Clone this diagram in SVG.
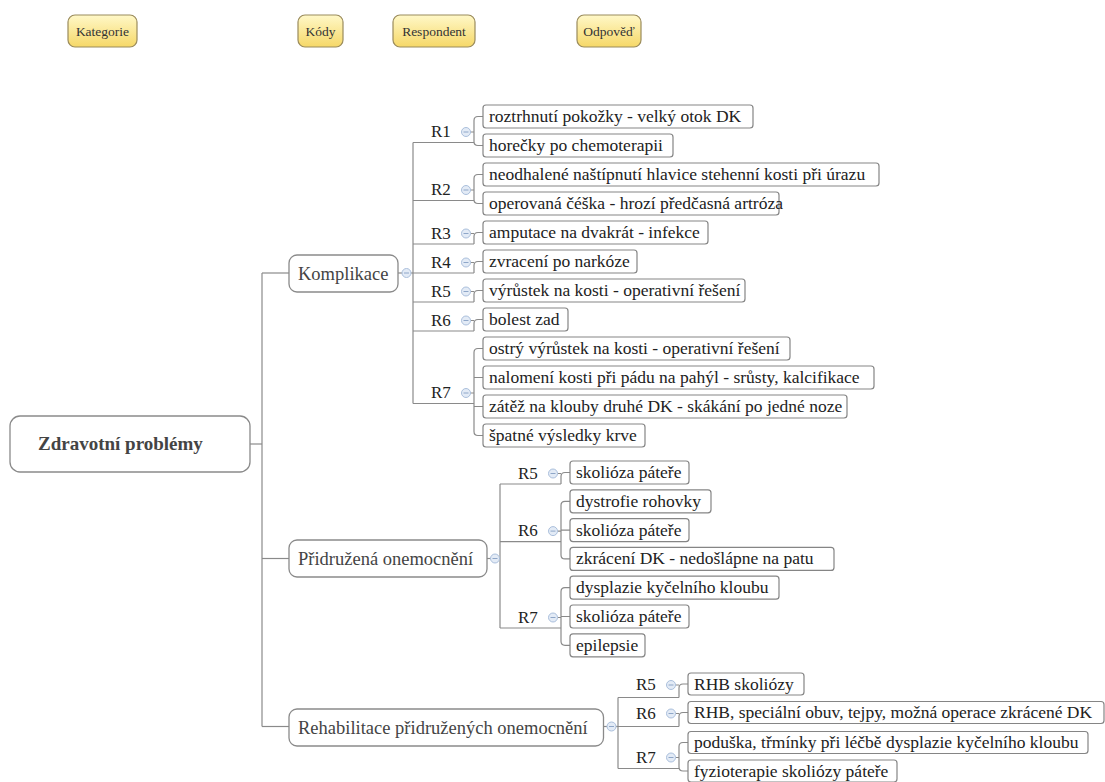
<svg xmlns="http://www.w3.org/2000/svg" width="1105" height="782" viewBox="0 0 1105 782">
  <defs>
    <linearGradient id="legendFill" x1="0" y1="0" x2="0" y2="1">
      <stop offset="0" stop-color="#fff8c8"/>
      <stop offset="1" stop-color="#f6d868"/>
    </linearGradient>
    <g id="collapse">
      <circle r="4.5" fill="#e3ebf6" stroke="#aabfdc" stroke-width="1"/>
      <line x1="-2.5" y1="0" x2="2.5" y2="0" stroke="#8ea6c8" stroke-width="1"/>
    </g>
  </defs>
  <style>
    .legend rect { fill: url(#legendFill); stroke: #9a8b5c; stroke-width: 1.2; }
    .legend text { font-family: "Liberation Serif", serif; font-size: 13.5px; fill: #333; text-anchor: middle; }
    .root rect { fill: #fff; stroke: #8a8a8a; stroke-width: 1.3; }
    .root text { font-family: "Liberation Serif", serif; font-size: 19px; font-weight: bold; fill: #444; }
    .cat rect { fill: #fff; stroke: #8a8a8a; stroke-width: 1.3; }
    .cat text { font-family: "Liberation Serif", serif; font-size: 18.5px; fill: #444; }
    .resp text { font-family: "Liberation Serif", serif; font-size: 17px; fill: #222; }
    .leaf rect { fill: #fff; stroke: #858585; stroke-width: 1.2; }
    .leaf text { font-family: "Liberation Serif", serif; font-size: 17.5px; fill: #222; }
    .links path { fill: none; stroke: #8a8a8a; stroke-width: 1.2; }
  </style>

  <rect width="1105" height="782" fill="#fff"/>

  <!-- legend -->
  <g id="legend" class="legend" font-family="Liberation Serif, serif">
    <g id="legend-kategorie"><rect x="68" y="15" width="69" height="32" rx="7"/><text font-family="Liberation Serif, serif" x="102.5" y="36">Kategorie</text></g>
    <g id="legend-kody"><rect x="298" y="15" width="45" height="32" rx="7"/><text font-family="Liberation Serif, serif" x="320.5" y="36">Kódy</text></g>
    <g id="legend-respondent"><rect x="393" y="15" width="82" height="32" rx="7"/><text font-family="Liberation Serif, serif" x="434" y="36">Respondent</text></g>
    <g id="legend-odpoved"><rect x="577" y="15" width="64" height="32" rx="7"/><text font-family="Liberation Serif, serif" x="609" y="36">Odpověď</text></g>
  </g>

  <!-- connectors -->
  <g id="connectors" class="links">
    <!-- root to categories -->
    <path d="M250,444 H262"/>
    <path d="M262,273 V726.5"/>
    <path d="M262,273 H289"/>
    <path d="M262,558.5 H289"/>
    <path d="M262,726.5 H289"/>

    <!-- Komplikace -->
    <path d="M398,273 H413"/>
    <path d="M413,142.5 V403.5"/>
    <path d="M413,142.5 H474 M413,200.5 H474 M413,244 H474 M413,273 H474 M413,302 H474 M413,331 H474 M413,403.5 H474"/>
    <path d="M483,116.5 H478 Q474,116.5 474,120.5 V141.5 Q474,145.5 478,145.5 H483"/>
    <path d="M483,174.5 H478 Q474,174.5 474,178.5 V199.5 Q474,203.5 478,203.5 H483"/>
    <path d="M474,244 V236.5 Q474,232.5 478,232.5 H483"/>
    <path d="M474,273 V265.5 Q474,261.5 478,261.5 H483"/>
    <path d="M474,302 V294.5 Q474,290.5 478,290.5 H483"/>
    <path d="M474,331 V323.5 Q474,319.5 478,319.5 H483"/>
    <path d="M483,348.5 H478 Q474,348.5 474,352.5 V431.5 Q474,435.5 478,435.5 H483 M474,377.5 H483 M474,406.5 H483"/>
    <path d="M470.5,132 H474 M470.5,190 H474 M470.5,233.5 H474 M470.5,262.5 H474 M470.5,291.5 H474 M470.5,320.5 H474 M470.5,393 H474"/>

    <!-- Přidružená onemocnění -->
    <path d="M487,558.5 H500"/>
    <path d="M500,484 V628"/>
    <path d="M500,484 H561 M500,541.6 H561 M500,628 H561"/>
    <path d="M561,484 V476.5 Q561,472.5 565,472.5 H570"/>
    <path d="M570,501.3 H565 Q561,501.3 561,505.3 V554.9 Q561,558.9 565,558.9 H570 M561,530.1 H570"/>
    <path d="M570,587.7 H565 Q561,587.7 561,591.7 V641.3 Q561,645.3 565,645.3 H570 M561,616.5 H570"/>
    <path d="M557.5,473.5 H561 M557.5,531.1 H561 M557.5,617.5 H561"/>

    <!-- Rehabilitace přidružených onemocnění -->
    <path d="M603.5,726.5 H618"/>
    <path d="M618,697.5 V768.5"/>
    <path d="M618,697.5 H679 M618,726.5 H679 M618,768.5 H679"/>
    <path d="M679,697.5 V688 Q679,684 683,684 H688"/>
    <path d="M679,726.5 V716.5 Q679,712.5 683,712.5 H688"/>
    <path d="M688,742.5 H683 Q679,742.5 679,746.5 V767 Q679,771 683,771 H688"/>
    <path d="M675.5,685 H679 M675.5,713.5 H679 M675.5,757.5 H679"/>
  </g>

  <!-- root -->
  <g id="node-root" class="root">
    <rect x="10" y="416" width="240" height="56" rx="10"/>
    <text font-family="Liberation Serif, serif" x="38" y="450">Zdravotní problémy</text>
  </g>

  <!-- categories -->
  <g id="node-komplikace" class="cat">
    <rect x="289" y="255" width="109" height="37" rx="8"/>
    <text font-family="Liberation Serif, serif" x="298" y="279.5">Komplikace</text>
    <use href="#collapse" x="406.5" y="273"/>
  </g>
  <g id="node-pridruzena" class="cat">
    <rect x="289" y="540" width="198" height="37" rx="8"/>
    <text font-family="Liberation Serif, serif" x="298" y="565">Přidružená onemocnění</text>
    <use href="#collapse" x="495" y="558.5"/>
  </g>
  <g id="node-rehabilitace" class="cat">
    <rect x="289" y="709" width="314.5" height="37" rx="8"/>
    <text font-family="Liberation Serif, serif" x="298" y="734">Rehabilitace přidružených onemocnění</text>
    <use href="#collapse" x="611.5" y="726.5"/>
  </g>

  <!-- respondents: Komplikace -->
  <g id="k-r1" class="resp"><text font-family="Liberation Serif, serif" x="431" y="137">R1</text><use href="#collapse" x="466" y="132"/></g>
  <g id="k-r2" class="resp"><text font-family="Liberation Serif, serif" x="431" y="195">R2</text><use href="#collapse" x="466" y="190"/></g>
  <g id="k-r3" class="resp"><text font-family="Liberation Serif, serif" x="431" y="238.5">R3</text><use href="#collapse" x="466" y="233.5"/></g>
  <g id="k-r4" class="resp"><text font-family="Liberation Serif, serif" x="431" y="267.5">R4</text><use href="#collapse" x="466" y="262.5"/></g>
  <g id="k-r5" class="resp"><text font-family="Liberation Serif, serif" x="431" y="296.5">R5</text><use href="#collapse" x="466" y="291.5"/></g>
  <g id="k-r6" class="resp"><text font-family="Liberation Serif, serif" x="431" y="325.5">R6</text><use href="#collapse" x="466" y="320.5"/></g>
  <g id="k-r7" class="resp"><text font-family="Liberation Serif, serif" x="431" y="398">R7</text><use href="#collapse" x="466" y="393"/></g>

  <!-- respondents: Přidružená onemocnění -->
  <g id="p-r5" class="resp"><text font-family="Liberation Serif, serif" x="518" y="478.5">R5</text><use href="#collapse" x="553" y="473.5"/></g>
  <g id="p-r6" class="resp"><text font-family="Liberation Serif, serif" x="518" y="536">R6</text><use href="#collapse" x="553" y="531.1"/></g>
  <g id="p-r7" class="resp"><text font-family="Liberation Serif, serif" x="518" y="622.5">R7</text><use href="#collapse" x="553" y="617.5"/></g>

  <!-- respondents: Rehabilitace -->
  <g id="r-r5" class="resp"><text font-family="Liberation Serif, serif" x="636" y="690">R5</text><use href="#collapse" x="671" y="685"/></g>
  <g id="r-r6" class="resp"><text font-family="Liberation Serif, serif" x="636" y="718.5">R6</text><use href="#collapse" x="671" y="713.5"/></g>
  <g id="r-r7" class="resp"><text font-family="Liberation Serif, serif" x="636" y="762.5">R7</text><use href="#collapse" x="671" y="757.5"/></g>

  <!-- answers: Komplikace -->
  <g id="k-a1" class="leaf"><rect x="483" y="105" width="270" height="23" rx="3"/><text font-family="Liberation Serif, serif" x="489" y="122">roztrhnutí pokožky - velký otok DK</text></g>
  <g id="k-a2" class="leaf"><rect x="483" y="134" width="190" height="23" rx="3"/><text font-family="Liberation Serif, serif" x="489" y="151">horečky po chemoterapii</text></g>
  <g id="k-a3" class="leaf"><rect x="483" y="163" width="396" height="23" rx="3"/><text font-family="Liberation Serif, serif" x="489" y="180">neodhalené naštípnutí hlavice stehenní kosti při úrazu</text></g>
  <g id="k-a4" class="leaf"><rect x="483" y="192" width="296" height="23" rx="3"/><text font-family="Liberation Serif, serif" x="489" y="209">operovaná čéška - hrozí předčasná artróza</text></g>
  <g id="k-a5" class="leaf"><rect x="483" y="221" width="225" height="23" rx="3"/><text font-family="Liberation Serif, serif" x="489" y="238">amputace na dvakrát - infekce</text></g>
  <g id="k-a6" class="leaf"><rect x="483" y="250" width="154" height="23" rx="3"/><text font-family="Liberation Serif, serif" x="489" y="267">zvracení po narkóze</text></g>
  <g id="k-a7" class="leaf"><rect x="483" y="279" width="262" height="23" rx="3"/><text font-family="Liberation Serif, serif" x="489" y="296">výrůstek na kosti - operativní řešení</text></g>
  <g id="k-a8" class="leaf"><rect x="483" y="308" width="85" height="23" rx="3"/><text font-family="Liberation Serif, serif" x="489" y="325">bolest zad</text></g>
  <g id="k-a9" class="leaf"><rect x="483" y="337" width="307" height="23" rx="3"/><text font-family="Liberation Serif, serif" x="489" y="354">ostrý výrůstek na kosti - operativní řešení</text></g>
  <g id="k-a10" class="leaf"><rect x="483" y="366" width="391" height="23" rx="3"/><text font-family="Liberation Serif, serif" x="489" y="383">nalomení kosti při pádu na pahýl - srůsty, kalcifikace</text></g>
  <g id="k-a11" class="leaf"><rect x="483" y="395" width="364" height="23" rx="3"/><text font-family="Liberation Serif, serif" x="489" y="412">zátěž na klouby druhé DK - skákání po jedné noze</text></g>
  <g id="k-a12" class="leaf"><rect x="483" y="424" width="162" height="23" rx="3"/><text font-family="Liberation Serif, serif" x="489" y="441">špatné výsledky krve</text></g>

  <!-- answers: Přidružená onemocnění -->
  <g id="p-a1" class="leaf"><rect x="570" y="461" width="119" height="23" rx="3"/><text font-family="Liberation Serif, serif" x="576" y="478">skolióza páteře</text></g>
  <g id="p-a2" class="leaf"><rect x="570" y="489.8" width="141" height="23" rx="3"/><text font-family="Liberation Serif, serif" x="576" y="506.8">dystrofie rohovky</text></g>
  <g id="p-a3" class="leaf"><rect x="570" y="518.6" width="119" height="23" rx="3"/><text font-family="Liberation Serif, serif" x="576" y="535.6">skolióza páteře</text></g>
  <g id="p-a4" class="leaf"><rect x="570" y="547.4" width="264" height="23" rx="3"/><text font-family="Liberation Serif, serif" x="576" y="564.4">zkrácení DK - nedošlápne na patu</text></g>
  <g id="p-a5" class="leaf"><rect x="570" y="576.2" width="209" height="23" rx="3"/><text font-family="Liberation Serif, serif" x="576" y="593.2">dysplazie kyčelního kloubu</text></g>
  <g id="p-a6" class="leaf"><rect x="570" y="605" width="119" height="23" rx="3"/><text font-family="Liberation Serif, serif" x="576" y="622">skolióza páteře</text></g>
  <g id="p-a7" class="leaf"><rect x="570" y="633.8" width="75" height="23" rx="3"/><text font-family="Liberation Serif, serif" x="576" y="650.8">epilepsie</text></g>

  <!-- answers: Rehabilitace -->
  <g id="r-a1" class="leaf"><rect x="688" y="673" width="116" height="22" rx="3"/><text font-family="Liberation Serif, serif" x="694" y="689.5">RHB skoliózy</text></g>
  <g id="r-a2" class="leaf"><rect x="688" y="701.5" width="416" height="22" rx="3"/><text font-family="Liberation Serif, serif" x="694" y="718">RHB, speciální obuv, tejpy, možná operace zkrácené DK</text></g>
  <g id="r-a3" class="leaf"><rect x="688" y="731.5" width="400" height="22" rx="3"/><text font-family="Liberation Serif, serif" x="694" y="748">poduška, třmínky při léčbě dysplazie kyčelního kloubu</text></g>
  <g id="r-a4" class="leaf"><rect x="688" y="760" width="209" height="22" rx="3"/><text font-family="Liberation Serif, serif" x="694" y="776.5">fyzioterapie skoliózy páteře</text></g>
</svg>
